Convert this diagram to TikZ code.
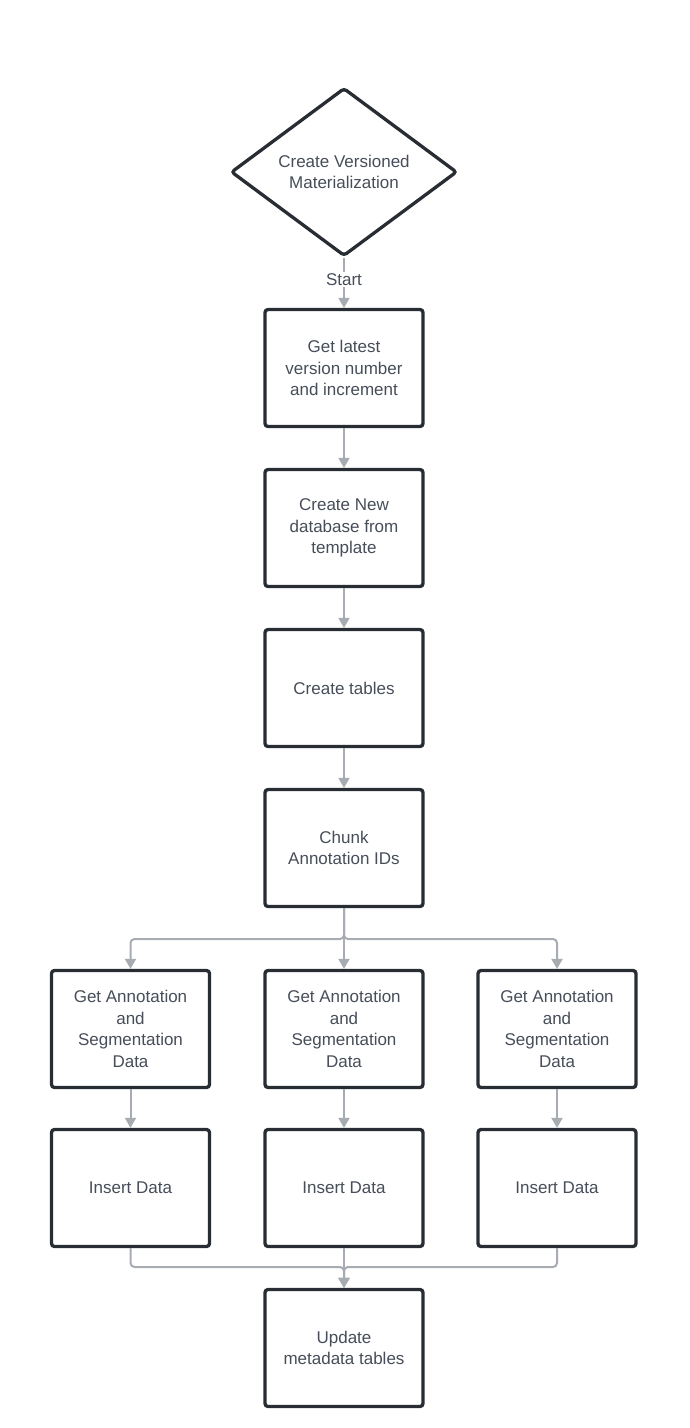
\documentclass[tikz,border=0pt]{standalone}
\usepackage{fontspec}
\setmainfont{Liberation Sans}
\usetikzlibrary{shapes.geometric,arrows.meta}
\definecolor{boxline}{HTML}{282C33}
\definecolor{conncol}{HTML}{A7ABB2}
\definecolor{txtcol}{HTML}{474E59}
\tikzset{
  stepbox/.style={draw=boxline, line width=3.3pt, rounded corners=3pt, fill=white,
    minimum width=158pt, minimum height=117pt, inner sep=0pt, align=center,
    text=txtcol, font=\fontsize{17}{21.7}\selectfont},
  decision/.style={diamond, draw=boxline, line width=3.3pt, rounded corners=3pt, fill=white,
    minimum width=226pt, minimum height=168pt, aspect=1.34, inner sep=0pt, align=center,
    text=txtcol, font=\fontsize{17}{21.7}\selectfont},
  conn/.style={draw=conncol, line width=2pt, -{Triangle[width=11pt,length=10pt]}},
  lbl/.style={fill=white, inner sep=1.5pt, text=txtcol, font=\fontsize{17}{20}\selectfont}
}
\begin{document}
\begin{tikzpicture}[x=1pt,y=-1pt]
\useasboundingbox (0,0) rectangle (689,1428);
\node[decision] (d) at (344,172) {Create Versioned\\Materialization};
\node[stepbox] (s1) at (344,368) {Get latest\\version number\\and increment};
\node[stepbox] (s2) at (344,528) {Create New\\database from\\template};
\node[stepbox] (s3) at (344,688) {Create tables};
\node[stepbox] (s4) at (344,848) {Chunk\\Annotation IDs};
\node[stepbox] (g1) at (130.5,1029) {Get Annotation\\and\\Segmentation\\Data};
\node[stepbox] (g2) at (344,1029) {Get Annotation\\and\\Segmentation\\Data};
\node[stepbox] (g3) at (557,1029) {Get Annotation\\and\\Segmentation\\Data};
\node[stepbox] (i1) at (130.5,1188) {Insert Data};
\node[stepbox] (i2) at (344,1188) {Insert Data};
\node[stepbox] (i3) at (557,1188) {Insert Data};
\node[stepbox] (u) at (344,1348) {Update\\metadata tables};
\coordinate (br) at (344,939);
\coordinate (mg) at (344,1267);
\draw[conn] (d.south) -- node[lbl, pos=0.44] {Start} (s1.north);
\draw[conn] (s1.south) -- (s2.north);
\draw[conn] (s2.south) -- (s3.north);
\draw[conn] (s3.south) -- (s4.north);
\draw[conn] (s4.south) -- (g2.north);
\draw[conn, rounded corners=4pt] (s4.south) -- (br) -| (g1.north);
\draw[conn, rounded corners=4pt] (s4.south) -- (br) -| (g3.north);
\draw[conn] (g1.south) -- (i1.north);
\draw[conn] (g2.south) -- (i2.north);
\draw[conn] (g3.south) -- (i3.north);
\draw[conn] (i2.south) -- (u.north);
\draw[conn, rounded corners=4pt] (i1.south) |- (mg) -- (u.north);
\draw[conn, rounded corners=4pt] (i3.south) |- (mg) -- (u.north);
\end{tikzpicture}
\end{document}
